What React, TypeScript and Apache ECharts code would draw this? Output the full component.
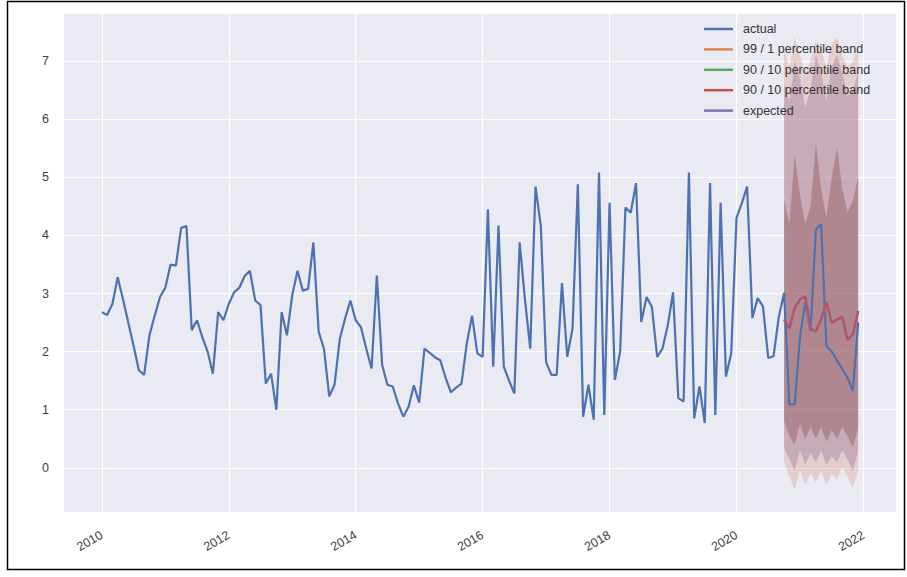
import React, { useEffect, useRef } from "react";
import * as echarts from "echarts";

// ---- data (monthly, starting 2010-01) ----
const START_YEAR = 2010;
const actual = [
  2.68, 2.63, 2.82, 3.28, 2.9, 2.5, 2.1, 1.68, 1.6, 2.28, 2.62, 2.94,
  3.1, 3.5, 3.48, 4.13, 4.16, 2.37, 2.54, 2.25, 2.0, 1.62, 2.68, 2.54,
  2.82, 3.02, 3.1, 3.3, 3.39, 2.88, 2.8, 1.45, 1.62, 1.0, 2.68, 2.28,
  2.97, 3.39, 3.05, 3.08, 3.88, 2.34, 2.05, 1.23, 1.43, 2.22, 2.57, 2.88,
  2.54, 2.42, 2.05, 1.71, 3.31, 1.77, 1.43, 1.4, 1.11, 0.88, 1.05, 1.42,
  1.12, 2.05, 1.98, 1.9, 1.85, 1.55, 1.3, 1.38, 1.45, 2.14, 2.62, 1.97,
  1.91, 4.45, 1.74, 4.17, 1.74, 1.5, 1.28, 3.88, 2.9, 2.05, 4.84, 4.16,
  1.82, 1.6, 1.6, 3.18, 1.91, 2.4, 4.88, 0.88, 1.43, 0.83, 5.08, 0.91,
  4.56, 1.51, 2.0, 4.48, 4.39, 4.9, 2.51, 2.94, 2.77, 1.91, 2.05, 2.45,
  3.02, 1.2, 1.14, 5.08, 0.85, 1.4, 0.77, 4.9, 0.91, 4.56, 1.57, 1.97,
  4.3, 4.55, 4.84, 2.58, 2.92, 2.78, 1.89, 1.92, 2.6, 3.01, 1.09, 1.09,
  2.26, 2.84, 2.35, 4.1, 4.19, 2.1, 2.0, 1.85, 1.7, 1.55, 1.32, 2.5,
];

// forecast window starts at 2020-10 (month index 129)
const FORECAST_START = 129;
const expected = [2.55, 2.4, 2.75, 2.9, 2.95, 2.4, 2.35, 2.55, 2.85, 2.5, 2.55, 2.6, 2.2, 2.3, 2.7];
const outerLo = [0.1, -0.15, -0.37, -0.05, -0.3, -0.1, -0.25, -0.05, -0.3, -0.1, -0.2, 0.0, -0.15, -0.35, -0.05];
const outerHi = [7.2, 6.9, 7.42, 7.1, 6.8, 7.0, 7.35, 7.2, 6.9, 7.3, 7.4, 7.1, 6.9, 7.0, 7.25];
const midLo = [0.35, 0.15, -0.05, 0.3, 0.05, 0.25, 0.1, 0.3, 0.05, 0.2, 0.1, 0.3, 0.15, -0.05, 0.3];
const midHi = [6.6, 6.3, 7.0, 6.7, 6.2, 6.5, 7.1, 6.8, 6.3, 6.9, 7.1, 6.8, 6.4, 6.5, 6.8];
const innerLo = [0.8, 0.55, 0.4, 0.75, 0.5, 0.7, 0.5, 0.7, 0.45, 0.65, 0.5, 0.7, 0.55, 0.35, 0.7];
const innerHi = [4.6, 4.2, 5.4, 4.7, 4.2, 4.5, 5.6, 4.8, 4.3, 5.0, 5.5, 4.8, 4.4, 4.6, 5.0];

const yTicks = [0, 1, 2, 3, 4, 5, 6, 7];
const xTickYears = [2010, 2012, 2014, 2016, 2018, 2020, 2022];

const legendNames = [
  "actual",
  "99 / 1 percentile band",
  "90 / 10 percentile band",
  "90 / 10 percentile band ",
  "expected",
];

const FONT = "Liberation Sans, Arial, sans-serif";

// decimal-year position of month index i
const xOf = (i: number) => START_YEAR + i / 12;

function bandSeries(name: string, lo: number[], hi: number[], legendColor: string, fill: string) {
  const rows = lo.map((v, k) => [xOf(FORECAST_START + k), v, hi[k]]);
  return {
    type: "custom",
    name,
    silent: true,
    itemStyle: { color: legendColor },
    encode: { x: 0, y: [1, 2] },
    data: rows,
    z: 3,
    renderItem: (params: any, api: any) => {
      if (params.dataIndex !== 0) return null;
      const pts: number[][] = [];
      for (let k = 0; k < rows.length; k++) pts.push(api.coord([rows[k][0], rows[k][1]]));
      for (let k = rows.length - 1; k >= 0; k--) pts.push(api.coord([rows[k][0], rows[k][2]]));
      return {
        type: "polygon",
        shape: { points: pts },
        style: { fill, stroke: "none" },
      };
    },
  };
}

export default function App() {
  const ref = useRef<HTMLDivElement>(null);
  useEffect(() => {
    document.body.style.margin = "0";
    const chart = echarts.init(ref.current!, null, { renderer: "svg" });
    const option: any = {
      animation: false,
      backgroundColor: "#ffffff",
      textStyle: { fontFamily: FONT },
      graphic: [
        {
          type: "rect",
          shape: { x: 7.5, y: 1.5, width: 897, height: 568 },
          style: { fill: "none", stroke: "#000", lineWidth: 1.5 },
          silent: true,
          z: 100,
        },
      ],
      grid: {
        left: 64,
        right: 11,
        top: 14,
        bottom: 65,
        show: true,
        backgroundColor: "#eaeaf2",
        borderWidth: 0,
      },
      legend: {
        data: legendNames,
        orient: "vertical",
        left: 704,
        top: 22,
        padding: 0,
        itemGap: 6.4,
        itemWidth: 29,
        itemHeight: 2.5,
        icon: "rect",
        formatter: (n: string) => n.trim(),
        textStyle: { fontFamily: FONT, fontSize: 12.5, color: "#333333", lineHeight: 14, padding: [0, 0, 0, 5] },
        selectedMode: false,
      },
      xAxis: {
        type: "value",
        min: 2009.404,
        max: 2022.513,
        axisLine: { show: false },
        axisTick: { show: false, customValues: xTickYears },
        splitLine: { show: true, lineStyle: { color: "#ffffff", width: 1.2 } },
        axisLabel: {
          customValues: xTickYears,
          rotate: 30,
          margin: 22,
          fontFamily: FONT,
          fontSize: 12.5,
          color: "#404040",
          formatter: (v: number) => String(Math.round(v)),
        },
      },
      yAxis: {
        type: "value",
        min: -0.76,
        max: 7.81,
        axisLine: { show: false },
        axisTick: { show: false, customValues: yTicks },
        splitLine: { show: true, lineStyle: { color: "#ffffff", width: 1.2 } },
        axisLabel: {
          customValues: yTicks,
          margin: 15,
          fontFamily: FONT,
          fontSize: 12.5,
          color: "#404040",
        },
      },
      series: [
        bandSeries("99 / 1 percentile band", outerLo, outerHi, "#dd8452", "rgba(215,140,120,0.30)"),
        bandSeries("90 / 10 percentile band", midLo, midHi, "#55a868", "rgba(150,105,150,0.35)"),
        bandSeries("90 / 10 percentile band ", innerLo, innerHi, "#c44e52", "rgba(140,80,75,0.38)"),
        {
          type: "line",
          name: "actual",
          symbol: "none",
          data: actual.map((v, i) => [xOf(i), v]),
          lineStyle: { color: "#4c72b0", width: 2.2 },
          itemStyle: { color: "#4c72b0" },
          z: 4,
        },
        {
          type: "line",
          name: "expected",
          symbol: "none",
          data: expected.map((v, k) => [xOf(FORECAST_START + k), v]),
          lineStyle: { color: "#8172b3", width: 2.6 },
          itemStyle: { color: "#8172b3" },
          z: 5,
        },
        {
          type: "line",
          name: "median",
          symbol: "none",
          data: expected.map((v, k) => [xOf(FORECAST_START + k), v]),
          lineStyle: { color: "#c44e52", width: 1.8 },
          itemStyle: { color: "#c44e52" },
          z: 6,
        },
      ],
    };
    chart.setOption(option);
    return () => chart.dispose();
  }, []);
  return <div ref={ref} style={{ width: 907, height: 577 }} />;
}
